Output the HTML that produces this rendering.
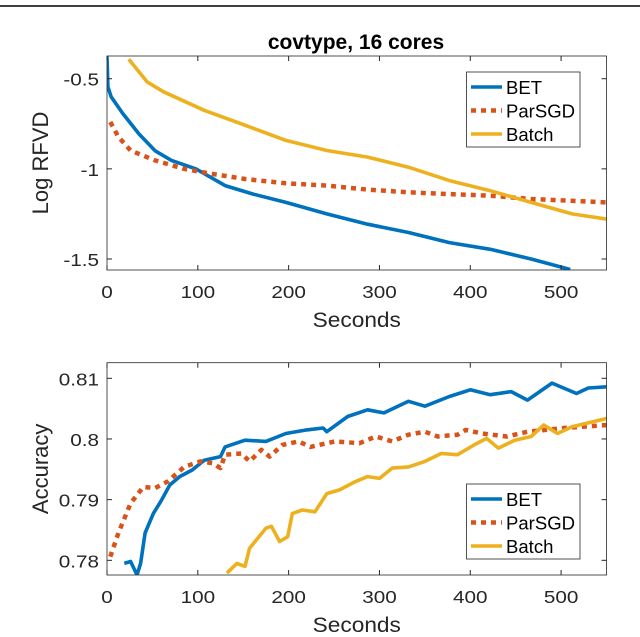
<!DOCTYPE html>
<html><head><meta charset="utf-8"><style>
body{margin:0;background:#fff;width:640px;height:632px;overflow:hidden}
svg text{font-family:"Liberation Sans",sans-serif}
</style></head><body>
<svg id="chart" width="640" height="632" viewBox="0 0 640 632" xmlns="http://www.w3.org/2000/svg">
<line x1="0" y1="6" x2="640" y2="6" stroke="#000" stroke-width="1.5"/>
<text x="356" y="49" font-size="21" font-weight="bold" text-anchor="middle">covtype, 16 cores</text>
<g id="top"></g>
<g id="bot"></g>
</svg>
<script>
const topBetX=[0,1,4.5,17,35,53,71,98,130,161,197,242,287,332,377,422,467,510];
const topBetY=[-0.377,-0.545,-0.6,-0.69,-0.805,-0.9,-0.953,-1.0,-1.093,-1.14,-1.186,-1.25,-1.307,-1.353,-1.409,-1.446,-1.5,-1.558];
const topSgdX=[3.6,12.6,26,53,85,116,152,197,242,287,332,377,422,467,551];
const topSgdY=[-0.74,-0.823,-0.898,-0.953,-1.0,-1.028,-1.056,-1.08,-1.093,-1.115,-1.13,-1.14,-1.149,-1.167,-1.186];
const topBatchX=[24,44,62,107,152,197,242,287,332,377,422,467,512,551];
const topBatchY=[-0.392,-0.517,-0.572,-0.675,-0.758,-0.842,-0.898,-0.935,-0.991,-1.065,-1.121,-1.186,-1.25,-1.279];
const botBetX=[19,26,33,37,42,51,60,69,80,94,107,125,130,152,175,197,220,238,242,265,287,305,332,350,377,400,422,445,463,490,517,530,551];
const botBetY=[0.7795,0.7798,0.7776,0.7795,0.7845,0.7877,0.7899,0.7924,0.7938,0.7949,0.7965,0.7971,0.7987,0.7998,0.7996,0.8009,0.8015,0.8018,0.8012,0.8037,0.8048,0.8043,0.8062,0.8054,0.807,0.8081,0.8073,0.8078,0.8064,0.8092,0.8075,0.8084,0.8086];
const botSgdX=[3.6,12.6,26,40,53,67,85,103,116,125,130,148,157,170,179,193,211,224,251,278,296,314,332,350,364,386,395,413,440,463,503,551];
const botSgdY=[0.7806,0.7845,0.7894,0.7921,0.7919,0.793,0.7954,0.7963,0.796,0.7952,0.7974,0.7976,0.7963,0.7982,0.7971,0.799,0.7996,0.7987,0.7996,0.7993,0.8004,0.7996,0.8007,0.8012,0.8004,0.8007,0.8015,0.8009,0.8004,0.8012,0.8018,0.8023];
const botBatchX=[132,143,152,157,175,181,190,199,204,215,229,242,256,274,287,300,314,332,350,368,386,404,418,431,449,467,481,496,512,551];
const botBatchY=[0.7779,0.7795,0.779,0.782,0.7853,0.7856,0.7831,0.7839,0.7877,0.7883,0.788,0.791,0.7916,0.793,0.7938,0.7935,0.7952,0.7954,0.7963,0.7976,0.7974,0.799,0.8001,0.7985,0.7998,0.8004,0.8023,0.8009,0.802,0.8034];
const xTicks=[0,100,200,300,400,500];
const topTicks=[-0.5,-1,-1.5];
const topTickLabels=["-0.5","-1","-1.5"];
const botTicks=[0.78,0.79,0.8,0.81];
const botTickLabels=["0.78","0.79","0.8","0.81"];
const seriesNames=["BET","ParSGD","Batch"];
const colors=["#0072BD","#D95319","#EDB120"];
const NS="http://www.w3.org/2000/svg";
function mk(p,t,a){const e=document.createElementNS(NS,t);for(const k in a)e.setAttribute(k,a[k]);p.appendChild(e);return e;}
function plot(g,id,box,ylim,yt,ytl,ylabel,series,legY){
  const L=box[0],R=box[1],T=box[2],B=box[3];
  const sx=v=>L+(v-0)/(550-0)*(R-L);
  const sy=v=>B-(v-ylim[0])/(ylim[1]-ylim[0])*(B-T);
  const cp=mk(g,'clipPath',{id:id});mk(cp,'rect',{x:L,y:T,width:R-L,height:B-T});
  series.forEach((s,i)=>{
    const d=s[0].map((x,j)=>(j?'L':'M')+sx(x).toFixed(1)+' '+sy(s[1][j]).toFixed(1)).join(' ');
    const a={d:d,fill:'none',stroke:colors[i],'stroke-width':i==1?4.5:3.6,'clip-path':'url(#'+id+')','stroke-linejoin':'round'};
    if(i==1)a['stroke-dasharray']='5 5';
    const p=mk(g,'path',a);
    
    
  });
  const ax=mk(g,'rect',{x:L,y:T,width:R-L,height:B-T,fill:'none',stroke:'#262626','stroke-width':0.8});
  
  
  xTicks.forEach(v=>{
    const x=sx(v);
    mk(g,'line',{x1:x,y1:B,x2:x,y2:B-5,stroke:'#262626'});mk(g,'line',{x1:x,y1:T,x2:x,y2:T+5,stroke:'#262626'});
    const t=mk(g,'text',{x:0,y:0,'font-size':18,'text-anchor':'middle',fill:'#262626',transform:'translate('+x+','+(B+28)+') scale(1.15,1)'});t.textContent=v;
    
    
  });
  yt.forEach((v,i)=>{
    const y=sy(v);
    mk(g,'line',{x1:L,y1:y,x2:L+5,y2:y,stroke:'#262626'});mk(g,'line',{x1:R,y1:y,x2:R-5,y2:y,stroke:'#262626'});
    const t=mk(g,'text',{x:0,y:0,'font-size':18,'text-anchor':'end',fill:'#262626',transform:'translate('+(L-8)+','+(y+7)+') scale(1.15,1)'});t.textContent=ytl[i];
    
    
  });
  const xl=mk(g,'text',{x:0,y:0,'font-size':21,'text-anchor':'middle',fill:'#262626',transform:'translate('+((L+R)/2)+','+(B+57)+') scale(1.08,1)'});xl.textContent='Seconds';
  
  
  const yl=mk(g,'text',{x:0,y:0,'font-size':22,'text-anchor':'middle',fill:'#262626',transform:'translate(48,'+((T+B)/2)+') rotate(-90)'});yl.textContent=ylabel;
  
  
  const lg=mk(g,'g',{});
  
  
  mk(lg,'rect',{x:466.5,y:legY,width:113.5,height:75,fill:'#fff',stroke:'#262626','stroke-width':0.8});
  seriesNames.forEach((n,i)=>{
    const y=legY+15+i*23.5;
    const la={x1:471,y1:y,x2:502,y2:y,stroke:colors[i],'stroke-width':i==1?4.5:3.6};
    if(i==1)la['stroke-dasharray']='5 5';
    const ln=mk(lg,'line',la);
    
    
    const t=mk(lg,'text',{x:0,y:0,'font-size':18,fill:'#000',transform:'translate(506,'+(y+7)+') scale(1.03,1)'});t.textContent=n;
    
    
  });
}
plot(document.getElementById('top'),'rfvd',[107,606.5,56,270],[-1.561,-0.374],topTicks,topTickLabels,'Log RFVD',
 [[topBetX,topBetY],[topSgdX,topSgdY],[topBatchX,topBatchY]],72);
plot(document.getElementById('bot'),'acc',[107,606.5,362.7,575],[0.77758,0.81257],botTicks,botTickLabels,'Accuracy',
 [[botBetX,botBetY],[botSgdX,botSgdY],[botBatchX,botBatchY]],484);
</script>
</body></html>
